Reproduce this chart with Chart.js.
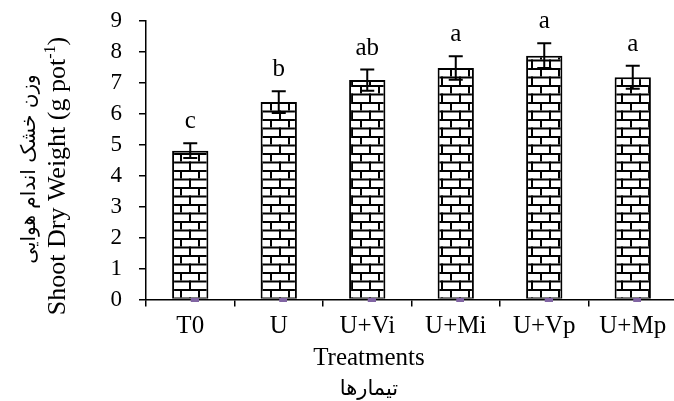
<!DOCTYPE html>
<html>
<head>
<meta charset="utf-8">
<script src="https://cdn.jsdelivr.net/npm/chart.js@4.4.0/dist/chart.umd.min.js"></script>
<style>
    html, body { margin: 0; padding: 0; background: #fff; overflow: hidden; }
    #contenedor { width: 682px; height: 401px; }
</style>
</head>
<body>
<div id="contenedor"><canvas id="myChart"></canvas></div>
<script>
const tratamientos = ['T0', 'U', 'U+Vi', 'U+Mi', 'U+Vp', 'U+Mp'];
const pesoSeco = [4.81, 6.38, 7.09, 7.48, 7.88, 7.18];
const errorEstandar = [0.24, 0.35, 0.34, 0.38, 0.40, 0.37];
const letras = ['c', 'b', 'ab', 'a', 'a', 'a'];
const marcaBase = [0, 0, 0, 0, 0, 0];
const ticksY = [0, 1, 2, 3, 4, 5, 6, 7, 8, 9];

const serif = "'Liberation Serif', 'Times New Roman', serif";
const persa = "'DejaVu Sans', sans-serif";

const ctx = document.getElementById('myChart').getContext('2d');

// patron de ladrillos para las barras
function patronLadrillo() {
    const c = document.createElement('canvas');
    c.width = 18;
    c.height = 17;
    const g = c.getContext('2d');
    g.fillStyle = '#fff';
    g.fillRect(0, 0, 18, 17);
    g.fillStyle = '#000';
    g.fillRect(0, 0, 18, 2);
    g.fillRect(0, 8.5, 18, 2);
    g.fillRect(0, 0, 2, 8.5);
    g.fillRect(9, 8.5, 2, 8.5);
    return ctx.createPattern(c, 'repeat');
}

// marquita morada en la base
function marcaMorada() {
    const c = document.createElement('canvas');
    c.width = 17;
    c.height = 4;
    const g = c.getContext('2d');
    g.fillStyle = '#8064a2';
    g.fillRect(9, 0, 8, 4);
    return c;
}

const erroresYLetras = {
    id: 'erroresYLetras',
    afterDatasetsDraw(chart) {
        const c = chart.ctx;
        const y = chart.scales.y;
        const barras = chart.getDatasetMeta(1).data;
        c.save();
        c.strokeStyle = '#000';
        c.lineWidth = 2;
        c.fillStyle = '#000';
        c.font = '25px ' + serif;
        c.textAlign = 'center';
        c.textBaseline = 'alphabetic';
        barras.forEach((barra, i) => {
            const arriba = y.getPixelForValue(pesoSeco[i] + errorEstandar[i]);
            const abajo = y.getPixelForValue(pesoSeco[i] - errorEstandar[i]);
            c.beginPath();
            c.moveTo(barra.x, arriba);
            c.lineTo(barra.x, abajo);
            c.moveTo(barra.x - 7, arriba);
            c.lineTo(barra.x + 7, arriba);
            c.moveTo(barra.x - 7, abajo);
            c.lineTo(barra.x + 7, abajo);
            c.stroke();
            c.fillText(letras[i], barra.x, arriba - 15);
        });
        c.restore();
    }
};

const titulos = {
    id: 'titulos',
    afterDraw(chart) {
        const c = chart.ctx;
        c.save();
        c.fillStyle = '#000';
        c.textAlign = 'center';

        c.font = '25px ' + serif;
        c.textBaseline = 'alphabetic';
        c.fillText('Treatments', 369, 365);

        c.font = '21px ' + persa;
        c.textBaseline = 'middle';
        c.fillText('تیمارها', 369, 390);

        // titulo del eje Y (girado)
        c.save();
        c.translate(30, 169);
        c.rotate(-Math.PI / 2);
        c.font = '20px ' + persa;
        c.textBaseline = 'middle';
        c.fillText('وزن خشک اندام هوایی', 0, 0);
        c.restore();

        c.save();
        c.translate(65, 176);
        c.rotate(-Math.PI / 2);
        c.textAlign = 'left';
        c.textBaseline = 'alphabetic';
        const parte1 = 'Shoot Dry Weight (g pot';
        const sup = '-1';
        const parte2 = ')';
        c.font = '26px ' + serif;
        const w1 = c.measureText(parte1).width;
        const w3 = c.measureText(parte2).width;
        c.font = '16px ' + serif;
        const w2 = c.measureText(sup).width;
        let x = -(w1 + w2 + w3) / 2;
        c.font = '26px ' + serif;
        c.fillText(parte1, x, 0);
        x += w1;
        c.font = '16px ' + serif;
        c.fillText(sup, x, -10);
        x += w2;
        c.font = '26px ' + serif;
        c.fillText(parte2, x, 0);
        c.restore();

        c.restore();
    }
};

new Chart(ctx, {
    data: {
        labels: tratamientos,
        datasets: [{
            type: 'line',
            data: marcaBase,
            showLine: false,
            pointStyle: marcaMorada(),
            pointRadius: 4,
            clip: false,
            order: 0
        }, {
            type: 'bar',
            data: pesoSeco,
            backgroundColor: patronLadrillo(),
            borderColor: '#000',
            borderWidth: 2,
            categoryPercentage: 1,
            barPercentage: 0.41,
            order: 1
        }]
    },
    options: {
        responsive: true,
        maintainAspectRatio: false,
        animation: false,
        layout: { padding: { top: 21, right: 4, left: 0, bottom: 0 } },
        plugins: {
            legend: { display: false },
            tooltip: { enabled: false }
        },
        scales: {
            x: {
                grid: {
                    display: true,
                    offset: true,
                    drawOnChartArea: false,
                    tickLength: 7,
                    color: '#000',
                    lineWidth: 1.5
                },
                border: { display: true, color: '#000', width: 1.5 },
                ticks: {
                    color: '#000',
                    font: { family: serif, size: 25 },
                    padding: 5,
                    maxRotation: 0
                },
                afterFit(scale) { scale.height = 101.5; }
            },
            y: {
                min: 0,
                max: 9,
                afterBuildTicks(scale) { scale.ticks = ticksY.map(v => ({ value: v })); },
                grid: {
                    drawOnChartArea: false,
                    tickLength: 7,
                    color: '#000',
                    lineWidth: 1.5
                },
                border: { display: true, color: '#000', width: 1.5 },
                ticks: {
                    color: '#000',
                    font: { family: serif, size: 23 },
                    padding: 17,
                    autoSkip: false
                },
                afterFit(scale) {
                    scale.width = 146;
                    scale.paddingTop = 0;
                    scale.paddingBottom = 0;
                }
            }
        }
    },
    plugins: [erroresYLetras, titulos]
});
</script>
</body>
</html>
